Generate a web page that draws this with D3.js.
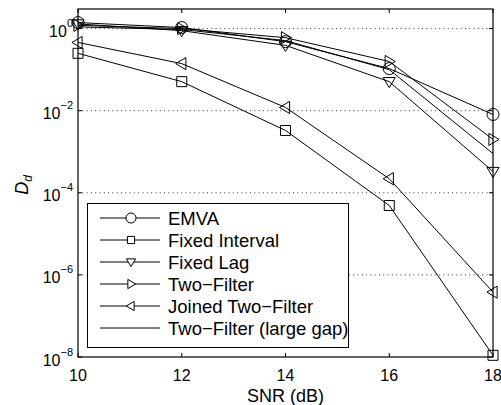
<!DOCTYPE html>
<html lang="en">
<head>
<meta charset="UTF-8">
<title>Dd vs SNR</title>
<script src="https://d3js.org/d3.v7.min.js"></script>
<style>
    body { margin: 0; background: #fff; }
    text { font-family: "Liberation Sans", Arial, sans-serif; fill: #000; }
</style>
</head>
<body>
<svg id="chart"></svg>
<script>
    // SNR values (dB)
    var snr = [10, 12, 14, 16, 18];

    var emva = [1.4, 1.06, 0.48, 0.106, 0.0081];
    var fixedInterval = [0.25, 0.051, 0.0033, 4.9e-5, 1.1e-8];
    var fixedLag = [1.3, 0.89, 0.39, 0.051, 3.3e-4];
    var twoFilter = [1.2, 1.0, 0.6, 0.158, 0.002];
    var joinedTwoFilter = [0.46, 0.14, 0.012, 2.2e-4, 3.8e-7];
    var twoFilterGap = [1.1, 0.95, 0.51, 0.1, 9e-4];

    var seriesNames = ["EMVA", "Fixed Interval", "Fixed Lag", "Two\u2212Filter",
        "Joined Two\u2212Filter", "Two\u2212Filter (large gap)"];
    var markers = ["circle", "square", "down", "right", "left", "none"];

    var xTicks = [10, 12, 14, 16, 18];
    var yTickExp = [0, -2, -4, -6, -8];

    var series = [emva, fixedInterval, fixedLag, twoFilter, joinedTwoFilter, twoFilterGap]
        .map(function (vals, i) {
            return {name: seriesNames[i], marker: markers[i],
                points: vals.map(function (v, j) { return {x: snr[j], y: v}; })};
        });

    var W = 501, H = 405;
    // plot box (note: "top" is reserved on window, so use a plain object)
    var box = {left: 78, right: 493, top: 9, bottom: 357};

    var svg = d3.select("#chart").attr("width", W).attr("height", H);

    var x = d3.scaleLinear().domain([10, 18]).range([box.left, box.right]);
    var y = d3.scaleLog().domain([1e-8, 3]).range([box.bottom, box.top]);

    // dotted grid
    svg.append("g").selectAll("line")
        .data(yTickExp.filter(function (e) { return e > -8; }))
        .enter().append("line")
        .attr("x1", box.left).attr("x2", box.right)
        .attr("y1", function (e) { return y(Math.pow(10, e)); })
        .attr("y2", function (e) { return y(Math.pow(10, e)); })
        .attr("stroke", "#000").attr("stroke-width", 0.8)
        .attr("stroke-dasharray", "1,3.3");

    // ticks, inward on all four sides
    var tickG = svg.append("g").attr("stroke", "#000").attr("stroke-width", 1);
    xTicks.forEach(function (t) {
        tickG.append("line").attr("x1", x(t)).attr("x2", x(t)).attr("y1", box.bottom).attr("y2", box.bottom - 4);
        tickG.append("line").attr("x1", x(t)).attr("x2", x(t)).attr("y1", box.top).attr("y2", box.top + 4);
    });
    yTickExp.forEach(function (e) {
        var yy = y(Math.pow(10, e));
        tickG.append("line").attr("x1", box.left).attr("x2", box.left + 4).attr("y1", yy).attr("y2", yy);
        tickG.append("line").attr("x1", box.right).attr("x2", box.right - 4).attr("y1", yy).attr("y2", yy);
    });

    // x tick labels
    svg.append("g").selectAll("text")
        .data(xTicks).enter().append("text")
        .attr("x", function (d) { return x(d); })
        .attr("y", 381)
        .attr("text-anchor", "middle")
        .attr("font-size", 16)
        .text(function (d) { return d; });

    // y tick labels with superscripts
    yTickExp.forEach(function (e) {
        var yy = y(Math.pow(10, e));
        var t = svg.append("text")
            .attr("x", box.left - 5)
            .attr("y", yy + 8.5)
            .attr("text-anchor", "end")
            .attr("font-size", 16);
        t.append("tspan").text("10");
        t.append("tspan").attr("font-size", 11).attr("dy", -10)
            .text(e === 0 ? "0" : "\u2212" + (-e));
    });

    // axis labels
    svg.append("text")
        .attr("x", (box.left + box.right) / 2).attr("y", 402)
        .attr("text-anchor", "middle").attr("font-size", 18)
        .text("SNR (dB)");

    var yl = svg.append("text")
        .attr("transform", "translate(28," + 185 + ") rotate(-90)")
        .attr("text-anchor", "middle")
        .attr("font-size", 18)
        .attr("font-family", "'Liberation Serif', serif")
        .attr("font-style", "italic");
    yl.append("tspan").text("D");
    yl.append("tspan").attr("font-size", 12).attr("dy", 4).text("d");

    // marker shapes
    function markerPath(type, s) {
        switch (type) {
            case "circle":
                return d3.symbol().type(d3.symbolCircle).size(Math.PI * s * s)();
            case "square":
                return "M" + (-s) + "," + (-s) + "H" + s + "V" + s + "H" + (-s) + "Z";
            case "down":
                return "M" + (-s * 1.1) + "," + (-s * 0.75) + "H" + (s * 1.1) + "L0," + (s * 1.1) + "Z";
            case "right":
                return "M" + (-s * 0.75) + "," + (-s * 1.1) + "V" + (s * 1.1) + "L" + (s * 1.1) + ",0Z";
            case "left":
                return "M" + (s * 0.75) + "," + (-s * 1.1) + "V" + (s * 1.1) + "L" + (-s * 1.1) + ",0Z";
        }
        return "";
    }
    var markerSize = {circle: 6, square: 5, down: 5.5, right: 5.5, left: 5.5, none: 0};
    var legendMarkerSize = {circle: 5, square: 3.6, down: 4.2, right: 4.2, left: 4.2, none: 0};

    var line = d3.line()
        .x(function (d) { return x(d.x); })
        .y(function (d) { return y(d.y); });

    var seriesG = svg.append("g").selectAll("g")
        .data(series).enter().append("g");

    seriesG.append("path")
        .attr("d", function (d) { return line(d.points); })
        .attr("fill", "none").attr("stroke", "#000").attr("stroke-width", 1);

    seriesG.each(function (s) {
        if (s.marker === "none") return;
        d3.select(this).selectAll(".mk")
            .data(s.points).enter().append("path")
            .attr("class", "mk")
            .attr("transform", function (d) { return "translate(" + x(d.x) + "," + y(d.y) + ")"; })
            .attr("d", markerPath(s.marker, markerSize[s.marker]))
            .attr("fill", "none").attr("stroke", "#000").attr("stroke-width", 1);
    });

    // axes box
    svg.append("rect")
        .attr("x", box.left).attr("y", box.top)
        .attr("width", box.right - box.left).attr("height", box.bottom - box.top)
        .attr("fill", "none").attr("stroke", "#000").attr("stroke-width", 1.2);

    // legend
    var lg = svg.append("g");
    lg.append("rect")
        .attr("x", 87.5).attr("y", 203.5).attr("width", 261).attr("height", 144)
        .attr("fill", "#fff").attr("stroke", "#000").attr("stroke-width", 1);
    var rowY = d3.scaleLinear().domain([0, 5]).range([218, 328]);
    var rows = lg.selectAll(".row").data(series).enter().append("g")
        .attr("transform", function (d, i) { return "translate(0," + rowY(i) + ")"; });
    rows.append("line").attr("x1", 100).attr("x2", 160).attr("y1", 0).attr("y2", 0)
        .attr("stroke", "#000").attr("stroke-width", 1);
    rows.append("path")
        .attr("transform", "translate(131,0)")
        .attr("d", function (d) { return markerPath(d.marker, legendMarkerSize[d.marker]); })
        .attr("fill", "#fff").attr("stroke", "#000").attr("stroke-width", 1);
    rows.append("text")
        .attr("x", 168).attr("y", 6.5)
        .attr("font-size", 18.5)
        .text(function (d) { return d.name; });
</script>
</body>
</html>
